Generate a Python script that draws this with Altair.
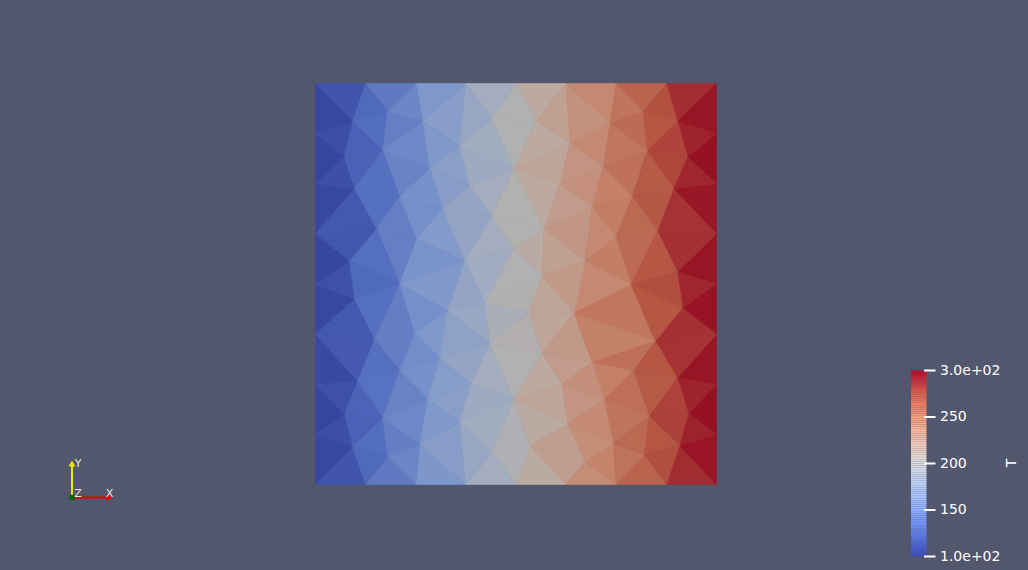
import altair as alt

# ---------------- mesh nodes (pixel-like units, 0..400, v grows downward) ----------------
node_u = [
    # boundary: top, bottom
    0, 50, 100, 150, 200, 250, 300, 350, 400,
    0, 50, 100, 150, 200, 250, 300, 350, 400,
    # boundary: left, right
    0, 0, 0, 0, 0, 0, 0,
    400, 400, 400, 400, 400, 400, 400,
    # interior, top-left
    37, 72, 29, 67, 107, 114, 144, 176, 154, 39, 84, 61, 127, 101, 176, 34, 84, 149, 198, 198,
    # interior, top-right
    220, 254, 294, 327, 361, 331, 371, 287, 244, 357, 316, 228, 276, 341, 269, 300, 361, 315, 226,
    # interior, bottom-left
    39, 59, 99, 132, 169, 174, 124, 84, 42, 112, 155, 29, 67, 144, 198, 37, 72, 104, 176,
    # interior, bottom-right
    213, 258, 366, 226, 276, 339, 317, 361, 246, 288, 333, 372, 214, 252, 297, 269, 328, 363,
]
node_v = [
    0, 0, 0, 0, 0, 0, 0, 0, 0,
    400, 400, 400, 400, 400, 400, 400, 400, 400,
    50, 100, 150, 200, 250, 300, 350,
    50, 100, 150, 200, 250, 300, 350,
    38, 28, 73, 67, 38, 85, 62, 35, 102, 105, 113, 145, 125, 155, 132, 177, 200, 177, 85, 165,
    38, 60, 40, 28, 38, 67, 73, 83, 100, 105, 113, 145, 124, 147, 177, 153, 188, 201, 192,
    215, 255, 249, 227, 219, 260, 274, 287, 297, 315, 300, 330, 334, 338, 315, 362, 372, 360, 367,
    228, 229, 224, 269, 278, 257, 287, 294, 300, 316, 332, 329, 361, 340, 359, 377, 370, 361,
]

# temperature range of the field (linear from left wall 100 to right wall 300)
T_left, T_right = 100.0, 300.0
bar_ticks = [100, 150, 200, 250, 300]
bar_labels = ["1.0e+02", "150", "200", "250", "3.0e+02"]

# Cool to Warm colour map stops (position in 0..1, colour)
cw_pos = [0, 1 / 7, 2 / 7, 3 / 7, 0.5, 4 / 7, 5 / 7, 6 / 7, 1]
cool_warm = ["#3b4cc0", "#6788ee", "#9abbff", "#c9d7f0", "#dddddd", "#edd1c2", "#f7a889", "#e26952", "#b40426"]


def shade(hexcol, k=0.8):
    r, g, b = (int(hexcol[i:i + 2], 16) for i in (1, 3, 5))
    return "#%02x%02x%02x" % (round(r * k), round(g * k), round(b * k))


lit_cool_warm = [shade(c) for c in cool_warm]
stops = [T_left + (T_right - T_left) * p for p in cw_pos]


# ---------------- Delaunay triangulation (Bowyer-Watson) ----------------
def delaunay(pts):
    n = len(pts)
    P = list(pts) + [(200 - 1e5, -1e5), (200 + 1e5, -1e5), (200, 1e5)]
    tris = [(n, n + 1, n + 2)]

    def circ(t):
        (ax, ay), (bx, by), (cx, cy) = P[t[0]], P[t[1]], P[t[2]]
        d = 2 * (ax * (by - cy) + bx * (cy - ay) + cx * (ay - by))
        if abs(d) < 1e-12:
            return 0, 0, -1
        a2, b2, c2 = ax * ax + ay * ay, bx * bx + by * by, cx * cx + cy * cy
        ux = (a2 * (by - cy) + b2 * (cy - ay) + c2 * (ay - by)) / d
        uy = (a2 * (cx - bx) + b2 * (ax - cx) + c2 * (bx - ax)) / d
        return ux, uy, (ax - ux) ** 2 + (ay - uy) ** 2

    cache = {}
    for i in range(n):
        px, py = P[i]
        bad = []
        for t in tris:
            if t not in cache:
                cache[t] = circ(t)
            ux, uy, r2 = cache[t]
            if (px - ux) ** 2 + (py - uy) ** 2 < r2 * (1 - 1e-12):
                bad.append(t)
        count = {}
        for t in bad:
            for e in ((t[0], t[1]), (t[1], t[2]), (t[2], t[0])):
                k = tuple(sorted(e))
                count[k] = count.get(k, 0) + 1
        badset = set(bad)
        tris = [t for t in tris if t not in badset]
        for e, c in count.items():
            if c == 1:
                tris.append((e[0], e[1], i))
    return [t for t in tris if max(t) < n]


nodes = list(zip(node_u, node_v))
node_T = [T_left + (T_right - T_left) * u / 400.0 for u in node_u]
triangles = delaunay(nodes)

features = []
for a, b, c in triangles:
    ring = [list(nodes[a]), list(nodes[b]), list(nodes[c]), list(nodes[a])]
    features.append({
        "type": "Feature",
        "geometry": {"type": "Polygon", "coordinates": [ring]},
        "properties": {"T": (node_T[a] + node_T[b] + node_T[c]) / 3.0},
    })

mesh_scale = alt.Scale(domain=stops, range=lit_cool_warm, interpolate="rgb")
mesh = alt.Chart(alt.Data(values=features)).mark_geoshape(strokeWidth=0.6).encode(
    fill=alt.Fill("properties.T:Q", scale=mesh_scale, legend=None),
    stroke=alt.Stroke("properties.T:Q", scale=mesh_scale, legend=None),
).project(type="identity", scale=1.0025, translate=[315.5, 83.5])

# ---------------- colour bar ----------------
strip_lo = [100 + 2 * i for i in range(100)]
bar_df = [{"T": t, "T2": t + 2} for t in strip_lo]
yscale = alt.Scale(domain=[100, 300], range=[556.5, 370.5], nice=False, zero=False)

bar = alt.Chart(alt.Data(values=bar_df)).mark_rect().encode(
    x=alt.value(911), x2=alt.value(926.5),
    y=alt.Y("T:Q", scale=yscale, axis=None),
    y2="T2:Q",
    color=alt.Color("T:Q", scale=alt.Scale(domain=stops, range=cool_warm, interpolate="rgb"), legend=None),
)

tick_df = [{"T": t, "label": l} for t, l in zip(bar_ticks, bar_labels)]
ticks = alt.Chart(alt.Data(values=tick_df)).mark_rule(color="white", strokeWidth=2).encode(
    x=alt.value(924), x2=alt.value(935.5),
    y=alt.Y("T:Q", scale=yscale, axis=None),
)
labels = alt.Chart(alt.Data(values=tick_df)).mark_text(
    align="left", baseline="middle", color="white", font="DejaVu Sans", fontSize=14
).encode(
    x=alt.value(940),
    y=alt.Y("T:Q", scale=yscale, axis=None),
    text="label:N",
)
one = alt.Data(values=[{"k": 0}])
bar_title = alt.Chart(one).mark_text(
    text="T", angle=270, align="center", baseline="middle", color="white",
    font="DejaVu Sans", fontSize=14,
).encode(x=alt.value(1012), y=alt.value(463))

# ---------------- orientation triad ----------------
y_shaft = alt.Chart(one).mark_rule(color="#e6e600", strokeWidth=2).encode(
    x=alt.value(72), y=alt.value(466), y2=alt.value(497))
y_head = alt.Chart(one).mark_point(shape="triangle-up", filled=True, color="#e6e600", opacity=1, size=50).encode(
    x=alt.value(72), y=alt.value(463.5))
x_shaft = alt.Chart(one).mark_rule(color="#e00000", strokeWidth=2).encode(
    x=alt.value(72), x2=alt.value(106), y=alt.value(497.5))
x_head = alt.Chart(one).mark_point(shape="triangle-right", filled=True, color="#e00000", opacity=1, size=55).encode(
    x=alt.value(109.5), y=alt.value(497.5))
z_box = alt.Chart(one).mark_square(color="#0b640b", opacity=1, size=30).encode(
    x=alt.value(72), y=alt.value(497.5))
axis_lbl_df = [{"t": "Y", "x": 78, "y": 463.5}, {"t": "Z", "x": 78, "y": 493.5}, {"t": "X", "x": 109.5, "y": 493.5}]
axis_lbls = [
    alt.Chart(one).mark_text(text=d["t"], color="#e8e8e8", fontSize=11, font="DejaVu Sans",
                             align="center", baseline="middle").encode(x=alt.value(d["x"]), y=alt.value(d["y"]))
    for d in axis_lbl_df
]

chart = alt.layer(
    mesh, bar, ticks, labels, bar_title, y_shaft, y_head, x_shaft, x_head, z_box, *axis_lbls
).resolve_scale(
    color="independent", fill="independent", stroke="independent"
).properties(
    width=1028, height=570, padding=0, background="#52576e",
    autosize=alt.AutoSizeParams(type="none"),
).configure_view(stroke=None)

chart.save("out.html", embed_options={"renderer": "svg", "actions": False})
